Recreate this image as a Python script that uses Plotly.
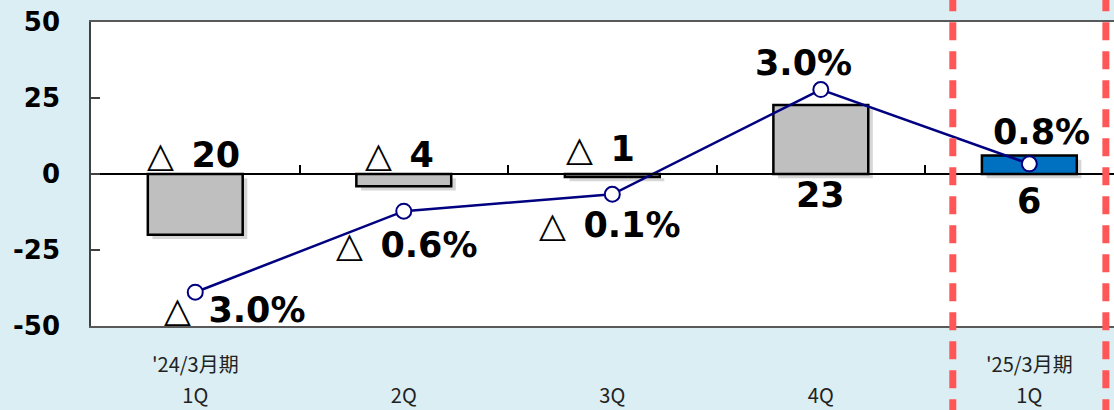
import plotly.graph_objects as go

# data
categories = ["'24/3月期 1Q", "'24/3月期 2Q", "'24/3月期 3Q", "'24/3月期 4Q", "'25/3月期 1Q"]
quarter_labels = ["1Q", "2Q", "3Q", "4Q", "1Q"]
fiscal_labels = ["'24/3月期", "", "", "", "'25/3月期"]
profit_change = [-20, -4, -1, 22.7, 6.1]
growth_rate = [-3.0, -0.6, -0.1, 3.0, 0.8]

y_ticks = [-50, -25, 0, 25, 50]
y_ticktext = ["-50", "-25", "0", "25", "50"]

# style
BG = "#DAEEF3"
bar_colors = ["#BFBFBF"] * 4 + ["#0070C0"]
LINE_COLOR = "#000080"
NUM_FONT = "DejaVu Sans"
JP_FONT = "Noto Sans CJK JP"
XRANGE = [-0.5, 4.406]
BAR_W = 0.455

# label offsets (px)
bar_label_shift = [(-2, 19), (-4, 19), (-12, 25), (0, -21), (0, -27)]
rate_label_shift = [(40, -18), (3, -34), (-2, -31), (-17, 27), (12, 32)]


def tri_label(v, fmt):
    if v < 0:
        return "△\u2002<b>" + fmt.format(abs(v)) + "</b>"
    return "<b>" + fmt.format(v) + "</b>"


fig = go.Figure()

# soft drop shadow behind the bars
fig.add_trace(go.Bar(
    x=categories, y=profit_change, width=BAR_W, base=-1.4,
    offset=-BAR_W / 2 + 0.022,
    marker=dict(color="rgba(0,0,0,0.16)", line=dict(width=0)),
    hoverinfo="skip",
))

fig.add_trace(go.Bar(
    x=categories, y=profit_change, width=BAR_W, offset=-BAR_W / 2,
    marker=dict(color=bar_colors, line=dict(color="black", width=2.5)),
    hoverinfo="skip",
))

# helper trace so the zero axis has categories
fig.add_trace(go.Scatter(
    x=categories, y=[None] * len(categories), xaxis="x2",
    mode="markers", showlegend=False, hoverinfo="skip",
))

fig.add_trace(go.Scatter(
    x=categories, y=growth_rate, yaxis="y2", mode="lines+markers",
    line=dict(color=LINE_COLOR, width=2.5),
    marker=dict(size=15, color="white", line=dict(color=LINE_COLOR, width=2)),
    cliponaxis=False, hoverinfo="skip",
))

annotations = []
for cat, v, (dx, dy) in zip(categories, profit_change, bar_label_shift):
    annotations.append(dict(
        x=cat, y=0, xref="x", yref="y", text=tri_label(int(round(v)), "{}"),
        showarrow=False, xshift=dx, yshift=dy, yanchor="middle",
        font=dict(family=NUM_FONT, size=35, color="black"),
    ))
for cat, r, (dx, dy) in zip(categories, growth_rate, rate_label_shift):
    annotations.append(dict(
        x=cat, y=r, xref="x", yref="y2", text=tri_label(r, "{:.1f}%"),
        showarrow=False, xshift=dx, yshift=dy, yanchor="middle",
        font=dict(family=NUM_FONT, size=35, color="black"),
    ))
for cat, fy in zip(categories, fiscal_labels):
    if fy:
        annotations.append(dict(
            x=cat, y=-0.122, xref="x", yref="paper", text=fy,
            showarrow=False, yanchor="middle",
            font=dict(family=JP_FONT, size=20, color="#222222"),
        ))

# red dashed frame around the latest quarter
shapes = []
for xpos in (4 - 0.367, 4 + 0.367):
    shapes.append(dict(
        type="line", xref="x", yref="paper", x0=xpos, x1=xpos, y0=-0.3, y1=1.1,
        line=dict(color="#FF5757", width=7, dash="18px,11px"),
    ))

fig.update_layout(
    width=1114, height=410,
    margin=dict(l=91, r=0, t=22, b=84),
    paper_bgcolor=BG, plot_bgcolor="white",
    showlegend=False, barmode="overlay",
    annotations=annotations, shapes=shapes,
    xaxis=dict(
        type="category", categoryorder="array", categoryarray=categories,
        range=XRANGE, showline=True, mirror=True, linecolor="#595959", linewidth=1.5,
        ticks="", tickmode="array", tickvals=categories, ticktext=quarter_labels,
        tickfont=dict(family=JP_FONT, size=20, color="#222222"),
        ticklabelstandoff=51, showgrid=False, zeroline=False, automargin=False,
    ),
    xaxis2=dict(
        type="category", categoryorder="array", categoryarray=categories,
        range=XRANGE, overlaying="x", anchor="free", position=0.5,
        showline=True, linecolor="black", linewidth=1.5,
        ticks="inside", tickson="boundaries", ticklen=8, tickcolor="black", tickwidth=1.5,
        showticklabels=False, showgrid=False, zeroline=False, automargin=False,
    ),
    yaxis=dict(
        range=[-50, 50], tickmode="array", tickvals=y_ticks, ticktext=y_ticktext,
        ticks="inside", ticklen=9, tickcolor="#404040", tickwidth=1.5,
        showline=True, linecolor="#404040", linewidth=1.5,
        showgrid=False, zeroline=False, ticklabelstandoff=24, automargin=False,
        tickfont=dict(family=NUM_FONT, size=26, color="black", weight="bold"),
    ),
    yaxis2=dict(range=[-4, 5], overlaying="y", visible=False),
)

fig.write_html("out.html", config={"displayModeBar": False},
               post_script="document.body.style.margin='0';")
